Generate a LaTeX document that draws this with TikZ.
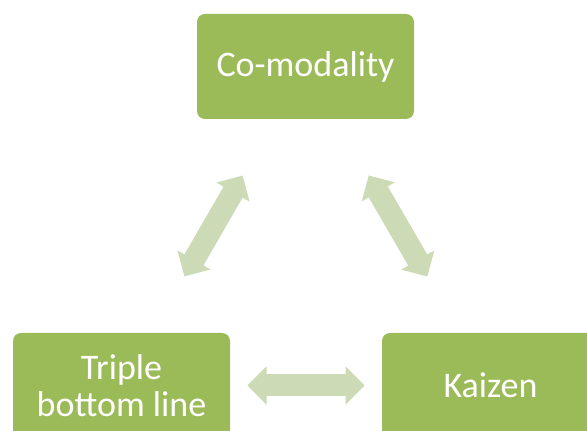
\documentclass[tikz,border=0pt]{standalone}
\usepackage{fontspec}
\setmainfont{Carlito}
\usepackage{xcolor}
\usepackage{tikz}
\usetikzlibrary{
  arrows.meta
}

\definecolor{boxgreen}{RGB}{155,187,89}
\definecolor{arrowgreen}{RGB}{204,218,182}

\tikzset{
  topic/.style={fill=boxgreen, rounded corners=8pt,
    minimum width=217pt, minimum height=105pt,
    text=white, align=center, inner sep=0pt,
    font=\fontsize{36}{37}\selectfont},
  link/.style={draw=arrowgreen, line width=22pt,
    arrows={Triangle[length=19pt,width=38pt,line width=1pt,fill=arrowgreen]-Triangle[length=19pt,width=38pt,line width=1pt,fill=arrowgreen]},
    shorten <=126pt, shorten >=126pt}
}

\begin{document}
\begin{tikzpicture}[x=1pt, y=1pt]
  \useasboundingbox (0,0) rectangle (587,431);

  % The three boxes. The two lower ones run off the page.
  \node [topic] (comodality) at (305.5,364.5) {Co-modality};
  \node [topic] (triple) at (121.5,45.5) {Triple\\bottom line};
  \node [topic] (kaizen) at (490.5,45.5) {Kaizen};

  % Two-way arrows between each pair of boxes.
  \draw [link] (triple.center) -- (comodality.center);
  \draw [link] (comodality.center) -- (kaizen.center);
  \draw [link] (triple.center) -- (kaizen.center);
\end{tikzpicture}
\end{document}
